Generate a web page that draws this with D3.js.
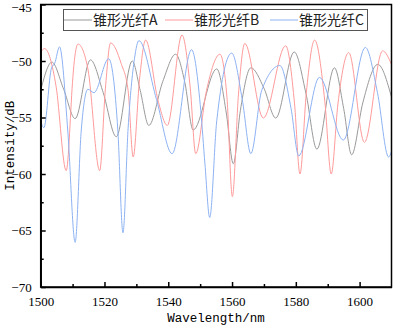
<!DOCTYPE html>
<html>
<head>
<meta charset="utf-8">
<title>锥形光纤 spectra</title>
<script type="text/javascript" src="https://d3js.org/d3.v7.min.js"></script>
<style>
  body { margin: 0; background: #fff; }
</style>
</head>
<body>
<script type="text/javascript">
  // data
  var seriesNames = ["锥形光纤A", "锥形光纤B", "锥形光纤C"];
  var seriesColors = ["#999999", "#ff9a9a", "#8db2f2"];

  var wlA = [1500, 1503.5, 1507.2, 1510.8, 1515.6, 1519.6, 1523.7, 1528.7, 1531.2, 1533.9, 1538.3, 1542.3, 1545.2, 1547.8, 1555.2, 1558.2, 1560.4, 1562.6, 1565.9, 1570.0, 1573.7, 1579.5, 1583.2, 1586.6, 1592.1, 1595.0, 1597.5, 1601.0, 1605.7, 1610];
  var dbA = [-52.6, -50.1, -52.5, -55.1, -49.9, -52.8, -56.7, -50.0, -52.6, -55.7, -51.8, -49.4, -51.9, -56.1, -50.7, -54.6, -59.1, -54.4, -50.6, -52.4, -55.05, -49.2, -52.9, -57.8, -50.6, -54.2, -58.3, -53.7, -50.3, -53.2];

  var wlB = [1500, 1501.2, 1504.8, 1508.0, 1510.1, 1510.4, 1511.7, 1514.8, 1518.5, 1520.3, 1521.9, 1525.2, 1527.4, 1529.0, 1531.0, 1532.9, 1536.8, 1539.7, 1544.3, 1546.9, 1548.6, 1552.0, 1556.2, 1558.4, 1560.1, 1562.0, 1564.0, 1569.8, 1576.8, 1579.6, 1581.3, 1583.3, 1585.9, 1589.1, 1591.1, 1593.2, 1596.6, 1601.5, 1607.2, 1610];
  var dbB = [-49.2, -48.9, -52.2, -59.7, -51.4, -50.4, -48.5, -50.7, -59.7, -52.4, -48.4, -50.2, -52.6, -58.5, -51.6, -48.15, -53.5, -55.7, -47.7, -52.4, -58.2, -52.6, -49.4, -53.2, -62.0, -53.0, -48.45, -55.05, -48.65, -53.8, -60.0, -52.8, -48.15, -53.6, -60.0, -53.8, -49.25, -57.2, -49.1, -50.3];

  var wlC = [1500, 1501.0, 1503.4, 1504.4, 1505.9, 1508.5, 1510.8, 1512.7, 1514.8, 1516.7, 1521.3, 1524.2, 1525.8, 1527.4, 1529.4, 1530.8, 1536.3, 1541.2, 1547.3, 1550.2, 1551.5, 1553.0, 1555.2, 1559.9, 1563.2, 1565.9, 1569.3, 1575.0, 1578.5, 1580.9, 1587.4, 1594.9, 1601.8, 1605.6, 1609.1, 1610];
  var dbC = [-55.3, -55.9, -50.6, -50.2, -48.75, -56.2, -66.05, -56.2, -52.5, -52.8, -49.8, -56.2, -65.2, -56.0, -49.8, -48.2, -53.4, -58.2, -49.0, -54.4, -59.1, -63.85, -55.3, -49.3, -53.4, -58.2, -52.6, -50.4, -54.2, -58.4, -51.45, -57.0, -48.8, -52.8, -58.5, -58.0];

  var xTicks = [1500, 1520, 1540, 1560, 1580, 1600];
  var yTicks = [-70, -65, -60, -55, -50, -45];

  var width = 393, height = 326;
  var margin = {top: 4.5, right: 1.5, bottom: 39, left: 40.7};

  var x = d3.scaleLinear().domain([1500, 1610]).range([margin.left, width - margin.right]);
  var y = d3.scaleLinear().domain([-70, -45]).range([height - margin.bottom, margin.top]);

  var svg = d3.select("body").append("svg")
              .attr("width", width)
              .attr("height", height);

  svg.append("clipPath").attr("id", "plotclip")
     .append("rect")
     .attr("x", margin.left).attr("y", margin.top)
     .attr("width", width - margin.right - margin.left)
     .attr("height", height - margin.bottom - margin.top);

  var line = d3.line()
               .x(function(d){ return x(d[0]); })
               .y(function(d){ return y(d[1]); })
               .curve(d3.curveMonotoneX);

  var allSeries = [d3.zip(wlA, dbA), d3.zip(wlB, dbB), d3.zip(wlC, dbC)];

  svg.append("g").attr("clip-path", "url(#plotclip)")
     .selectAll("path")
     .data(allSeries)
     .enter().append("path")
     .attr("d", line)
     .attr("fill", "none")
     .attr("stroke", function(d, i){ return seriesColors[i]; })
     .attr("stroke-width", 1);

  // frame
  svg.append("rect")
     .attr("x", margin.left).attr("y", margin.top)
     .attr("width", width - margin.right - margin.left)
     .attr("height", height - margin.bottom - margin.top)
     .attr("fill", "none")
     .attr("stroke", "#000")
     .attr("stroke-width", 1.5);

  // axes, ticks point inward
  var xAxis = d3.axisBottom(x).tickValues(xTicks).tickFormat(d3.format("d")).tickSizeInner(-5).tickSizeOuter(0).tickPadding(10);
  var gx = svg.append("g").attr("transform", "translate(0," + (height - margin.bottom) + ")").call(xAxis);
  gx.selectAll("line").attr("stroke-width", 1.5);
  gx.select(".domain").attr("stroke-width", 1.5);
  gx.selectAll("text").attr("font-family", "Liberation Serif").attr("font-size", 13).attr("fill", "#000");

  var xMinor = d3.axisBottom(x).tickValues([1510, 1530, 1550, 1570, 1590]).tickFormat("").tickSizeInner(-3).tickSizeOuter(0);
  var gxm = svg.append("g").attr("transform", "translate(0," + (height - margin.bottom) + ")").call(xMinor);
  gxm.select(".domain").remove();
  gxm.selectAll("line").attr("stroke-width", 1.5);

  var yAxis = d3.axisLeft(y).tickValues(yTicks).tickSizeInner(-5).tickSizeOuter(0).tickPadding(9);
  var gy = svg.append("g").attr("transform", "translate(" + margin.left + ",0)").call(yAxis);
  gy.selectAll("line").attr("stroke-width", 1.5);
  gy.select(".domain").attr("stroke-width", 1.5);
  gy.selectAll("text").attr("font-family", "Liberation Serif").attr("font-size", 13).attr("fill", "#000")
    .attr("dy", function(d){ return d === -45 ? "0.55em" : "0.32em"; });

  var yMinor = d3.axisLeft(y).tickValues([-67.5, -62.5, -57.5, -52.5, -47.5]).tickFormat("").tickSizeInner(-3).tickSizeOuter(0);
  var gym = svg.append("g").attr("transform", "translate(" + margin.left + ",0)").call(yMinor);
  gym.select(".domain").remove();
  gym.selectAll("line").attr("stroke-width", 1.5);

  // axis titles
  svg.append("text")
     .attr("x", (margin.left + width - margin.right) / 2)
     .attr("y", 322)
     .attr("text-anchor", "middle")
     .attr("font-family", "Liberation Mono")
     .attr("font-size", 12.5)
     .text("Wavelength/nm");

  svg.append("text")
     .attr("transform", "translate(14," + ((margin.top + height - margin.bottom) / 2) + ") rotate(-90)")
     .attr("text-anchor", "middle")
     .attr("font-family", "Liberation Mono")
     .attr("font-size", 12.5)
     .text("Intensity/dB");

  // legend
  var legend = svg.append("g");
  legend.append("rect")
        .attr("x", 63.5).attr("y", 9.5)
        .attr("width", 304).attr("height", 21)
        .attr("fill", "#fff")
        .attr("stroke", "#555")
        .attr("stroke-width", 1);

  var legX = [64, 165, 270];
  var legItems = legend.selectAll("g.item")
                       .data(seriesNames)
                       .enter().append("g")
                       .attr("class", "item")
                       .attr("transform", function(d, i){ return "translate(" + legX[i] + ",20)"; });
  legItems.append("line")
          .attr("x1", 0).attr("x2", 28)
          .attr("y1", 0).attr("y2", 0)
          .attr("stroke", function(d, i){ return seriesColors[i]; })
          .attr("stroke-width", 1);
  legItems.append("text")
          .attr("x", 29).attr("y", 5)
          .attr("font-family", "Noto Sans CJK SC")
          .attr("font-size", 14)
          .attr("fill", "#222")
          .text(function(d){ return d; });
</script>
</body>
</html>
